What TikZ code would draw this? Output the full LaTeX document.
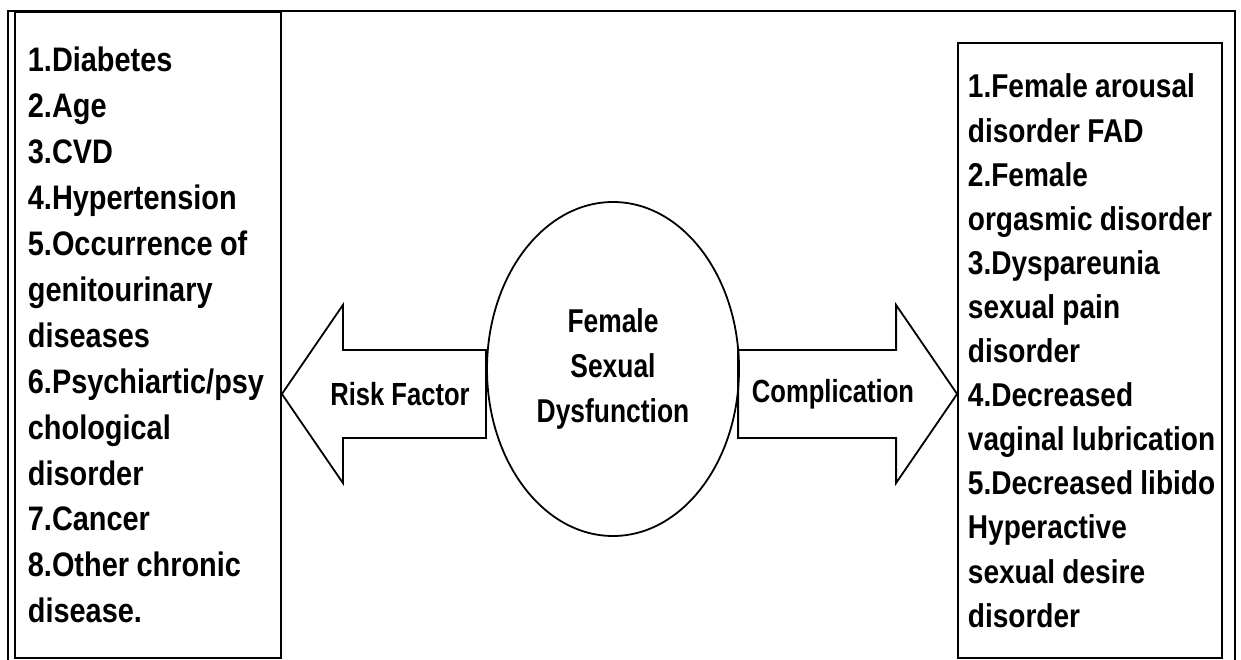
\documentclass[tikz,border=0pt]{standalone}
\usepackage{fontspec}
\setmainfont{Liberation Sans}[FakeStretch=0.85]
\newfontfamily\labelfont{Liberation Sans}[FakeStretch=0.8]
\usetikzlibrary{shapes.geometric}

\begin{document}
\begin{tikzpicture}[x=1pt, y=-1pt, line width=1.8pt,
        listbox/.style={draw, rectangle, inner sep=0pt},
        listtext/.style={anchor=base west, text width=300pt, align=left, inner sep=0pt,
            execute at begin node={\spaceskip 0.22em\relax}},
        blockarrow/.style={draw, line join=miter},
        arrowtext/.style={font=\labelfont\bfseries\fontsize{32}{45}\selectfont}]
        \useasboundingbox (0,0) rectangle (1241,660);
        % outer frame
        \draw (8,660) -- (8,11) -- (1235,11) -- (1235,660);
        % boxes
        \node[listbox, minimum width=266, minimum height=646] (riskbox) at (148,335) {};
        \node[listbox, minimum width=264, minimum height=615] (compbox) at (1090,350.5) {};
        \node[listtext, font=\bfseries\fontsize{34}{45.9}\selectfont] (risks) at (27,72) {1.Diabetes\\2.Age\\3.CVD\\4.Hypertension\\5.Occurrence of\\genitourinary\\diseases\\6.Psychiartic/psy\\chological\\disorder\\7.Cancer\\8.Other chronic\\disease.};
        \node[listtext, font=\bfseries\fontsize{33}{44.1}\selectfont] (comps) at (967,98) {1.Female arousal\\disorder FAD\\2.Female\\orgasmic disorder\\3.Dyspareunia\\sexual pain\\disorder\\4.Decreased\\vaginal lubrication\\5.Decreased libido\\Hyperactive\\sexual desire\\disorder};
        % centre
        \node[draw, ellipse, minimum width=252, minimum height=334, inner sep=0pt, align=center, arrowtext, font=\labelfont\bfseries\fontsize{33}{45}\selectfont] (fsd) at (613,369) {Female\\Sexual\\Dysfunction};
        % block arrows
        \coordinate (risktip) at (riskbox.east |- 0,394);
        \coordinate (comptip) at (compbox.west |- 0,394);
        \draw[blockarrow] (risktip) -- ++(61,-89) -- ++(0,45) -- ++(143,0) -- ++(0,88) -- ++(-143,0) -- ++(0,45) -- cycle;
        \draw[blockarrow] (comptip) -- ++(-61,-89) -- ++(0,45) -- ++(-158,0) -- ++(0,88) -- ++(158,0) -- ++(0,45) -- cycle;
        \node[arrowtext] (risklabel) at (400,394) {Risk Factor};
        \node[arrowtext] (complabel) at (833,394) {Complication};
    \end{tikzpicture}
\end{document}
